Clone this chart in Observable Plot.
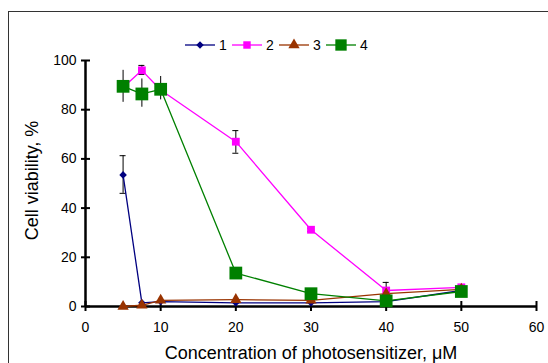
<!DOCTYPE html>
<html><head><meta charset="utf-8">
<script src="https://cdn.jsdelivr.net/npm/d3@7"></script>
<script src="https://cdn.jsdelivr.net/npm/@observablehq/plot@0.6"></script>
<style>
body{margin:0;background:#fff;}
#wrap{position:relative;width:548px;height:363px;overflow:hidden;font-family:"Liberation Sans",Arial,sans-serif;background:#fff;}
#frame{position:absolute;left:8px;top:11px;width:700px;height:500px;border:1.5px solid #333;box-sizing:border-box;}
#chart{position:absolute;left:0;top:0;}
#legend{position:absolute;left:183px;top:35px;}
</style></head>
<body><div id="wrap"><div id="frame"></div><div id="chart"></div><div id="legend"></div></div>
<script>
const conc = [5, 7.5, 10, 20, 30, 40, 50];
const seriesNames = ["1", "2", "3", "4"];
const s1 = [53.5, 1.5, 2, 1.5, 1.5, 2, 6.5];
const s2 = [89, 96, 88, 67, 31.2, 6.5, 7.8];
const s3 = [0, 0.5, 2.5, 2.8, 2.5, 5.2, 7];
const s4 = [89.5, 86.4, 88.3, 13.6, 5.2, 2.3, 6.1];
const colors = ["#000080", "#FF00FF", "#993300", "#008000"];
const symbols = ["diamond2", "square", "triangle", "square"];
const radii = [3.4, 4.4, 4.2, 7.2];

// error bars
const errSeries = ["1", "2", "2", "2", "2", "2", "4", "4", "4"];
const errX      = [5, 7.5, 20, 30, 40, 50, 5, 7.5, 10];
const errLo     = [46, 94.3, 62.3, 30.5, 4, 6.8, 83, 81, 84];
const errHi     = [61.3, 98, 71.5, 31.8, 9.8, 8.6, 96, 92.5, 93.5];
const errCap    = [true, true, true, true, true, true, false, false, false];

const xTicks = [0, 10, 20, 30, 40, 50, 60];
const yTicks = [0, 20, 40, 60, 80, 100];

const all = [s1, s2, s3, s4];
const rows = [];
all.forEach((s, i) => s.forEach((v, j) => rows.push({series: seriesNames[i], x: conc[j], y: v, idx: i})));
const errRows = errX.map((x, i) => ({series: errSeries[i], x, lo: errLo[i], hi: errHi[i], cap: errCap[i]}));
const capRows = [];
errRows.filter(d => d.cap).forEach(d => { capRows.push({x: d.x, y: d.lo}); capRows.push({x: d.x, y: d.hi}); });

const W = 548, H = 363, mL = 85, mR = 12, mT = 60, mB = 57;
const pw = W - mL - mR, ph = H - mT - mB;

const marks = [
  Plot.ruleX(errRows, {x: "x", y1: "lo", y2: "hi", stroke: "black", strokeWidth: 1}),
  Plot.ruleY(capRows, {y: "y", x1: d => d.x - 0.4, x2: d => d.x + 0.4, stroke: "black", strokeWidth: 1}),
  Plot.ruleY([0], {strokeWidth: 2.5}),
  Plot.ruleX([0], {strokeWidth: 2.5}),
  Plot.tickY(yTicks, {y: d => d, insetRight: pw - 5, strokeWidth: 2}),
  Plot.tickX(xTicks, {x: d => d, insetTop: ph - 5, strokeWidth: 2}),
  Plot.axisY({ticks: yTicks, tickSize: 4, tickPadding: 5, strokeWidth: 2, fontSize: 14, label: null}),
  Plot.axisX({ticks: xTicks, tickSize: 5, tickPadding: 11, strokeWidth: 2, fontSize: 14, label: null}),
  Plot.text(["Cell viability, %"], {frameAnchor: "left", textAnchor: "middle", lineAnchor: "middle", dx: -53, dy: -3, rotate: -90, fontSize: 18}),
  Plot.text(["Concentration of photosensitizer, μM"], {frameAnchor: "bottom", textAnchor: "middle", lineAnchor: "middle", dy: 47, fontSize: 18})
];
seriesNames.forEach((name, i) => {
  const data = rows.filter(d => d.idx === i);
  marks.push(Plot.line(data, {x: "x", y: "y", stroke: colors[i], strokeWidth: 1.3}));
});
seriesNames.forEach((name, i) => {
  const data = rows.filter(d => d.idx === i);
  marks.push(Plot.dot(data, {x: "x", y: "y", symbol: symbols[i], r: radii[i], fill: colors[i], stroke: "none"}));
});

const chart = Plot.plot({
  width: W, height: H,
  marginLeft: mL, marginRight: mR, marginTop: mT, marginBottom: mB,
  style: {background: "transparent", fontFamily: "Liberation Sans, Arial, sans-serif", fontSize: "14px", color: "black", overflow: "visible"},
  x: {domain: [0, 60], axis: null},
  y: {domain: [0, 100], axis: null},
  marks
});
document.getElementById("chart").appendChild(chart);

// legend
const lg = d3.select("#legend").append("svg").attr("width", 200).attr("height", 22)
  .style("font-family", "Liberation Sans, Arial, sans-serif").style("font-size", "14px");
const symMap = {diamond2: d3.symbolDiamond2, square: d3.symbolSquare, triangle: d3.symbolTriangle};
const legR = [3.4, 4.2, 4.2, 6.4];
seriesNames.forEach((name, i) => {
  const g = lg.append("g").attr("transform", `translate(${2 + i * 47},10)`);
  g.append("line").attr("x1", 0).attr("x2", 30).attr("y1", 0).attr("y2", 0).attr("stroke", colors[i]).attr("stroke-width", 1.3);
  g.append("path").attr("transform", "translate(15,0)")
    .attr("d", d3.symbol(symMap[symbols[i]], Math.PI * legR[i] * legR[i])()).attr("fill", colors[i]);
  g.append("text").attr("x", 34).attr("y", 5).text(name);
});
</script></body></html>
